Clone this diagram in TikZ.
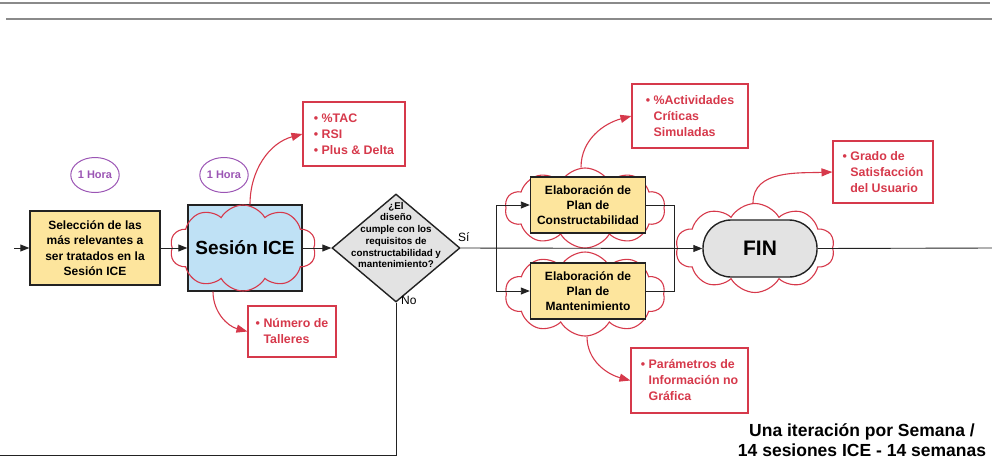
\documentclass[tikz,border=0pt]{standalone}
\usepackage{fontspec}
\setmainfont{Liberation Sans}
\usetikzlibrary{shapes.geometric,shapes.symbols,arrows.meta,calc}
\definecolor{ink}{HTML}{222222}
\definecolor{redline}{HTML}{D6394B}
\definecolor{purp}{HTML}{9B55B4}
\definecolor{yel}{HTML}{FDE59D}
\definecolor{skyb}{HTML}{BFE1F5}
\definecolor{grayf}{HTML}{E3E3E3}
\definecolor{rulec}{HTML}{8A8A8A}

\begin{document}
\begin{tikzpicture}[x=1pt,y=-1pt,
  task/.style={rectangle, draw=ink, line width=1.4pt, fill=yel, align=center,
    font=\fontsize{12}{15.3}\selectfont\bfseries, inner sep=0pt},
  hour/.style={ellipse, draw=purp, line width=1pt, minimum width=44pt,
    minimum height=35pt, inner sep=0pt, text=purp,
    font=\fontsize{11}{12}\selectfont\bfseries},
  puff/.style={cloud, draw=redline, line width=1.1pt, cloud puffs=10,
    cloud puff arc=120, cloud ignores aspect, inner sep=0pt},
  metric/.style={rectangle, draw=redline, line width=1.1pt, text=redline,
    align=left, font=\fontsize{12.4}{16}\selectfont\bfseries, inner sep=0pt},
  link/.style={draw=ink, line width=0.9pt},
  flow/.style={link, -{Triangle[length=9pt,width=7pt]}},
  feed/.style={draw=redline, line width=1.1pt, -{Triangle[length=11pt,width=8pt]}},
]
\useasboundingbox (0,0) rectangle (992,459);

% header rules
\draw[rulec, line width=1.8pt] (0,3) -- (990,3);
\draw[rulec, line width=1.8pt] (6,19) -- (992,19);

% time markers
\node[hour] (h1) at (95,175) {1 Hora};
\node[hour] (h2) at (224,175) {1 Hora};

% main steps
\node[task, minimum width=130pt, minimum height=74pt] (sel) at (95,248)
  {Selección de las\\más relevantes a\\ser tratados en la\\Sesión ICE};
\node[rectangle, draw=ink, line width=1.4pt, fill=skyb, minimum width=114pt,
  minimum height=86pt, inner sep=0pt, font=\fontsize{19}{22}\selectfont\bfseries]
  (ice) at (245,248) {Sesión ICE};
\node[puff, minimum width=146pt, minimum height=86pt] (cice) at (243,248) {};

\node[diamond, draw=ink, line width=1.4pt, fill=grayf, minimum width=128pt,
  minimum height=108pt, inner sep=0pt,
  label={[font=\fontsize{9.8}{11.7}\selectfont\bfseries, align=center, yshift=13pt]center:{¿El\\diseño\\cumple con los\\requisitos de\\constructabilidad y\\mantenimiento?}}]
  (dec) at (396,248) {};

\node[puff, minimum width=160pt, minimum height=80pt] (cec) at (585,208) {};
\node[puff, minimum width=160pt, minimum height=84pt] (cem) at (585,294) {};
\node[task, minimum width=115pt, minimum height=56pt] (ec) at (588,205)
  {Elaboración de\\Plan de\\Constructabilidad};
\node[task, minimum width=115pt, minimum height=56pt] (em) at (588,291)
  {Elaboración de\\Plan de\\Mantenimiento};

\node[puff, minimum width=159pt, minimum height=89pt] (cfin) at (755,248) {};
\node[rectangle, rounded corners=28pt, draw=ink, line width=1.4pt, fill=grayf,
  minimum width=114pt, minimum height=57pt, inner sep=0pt,
  font=\fontsize{21}{24}\selectfont\bfseries] (fin) at (760,248.5) {FIN};

% indicators
\node[metric, minimum width=102pt, minimum height=64pt] (tac) at (354,134)
  {• \%TAC\\• RSI\\• Plus \& Delta};
\node[metric, minimum width=88pt, minimum height=51pt] (tall) at (292,331.5)
  {• Número de\\\phantom{• }Talleres};
\node[metric, minimum width=116pt, minimum height=64pt] (act) at (690,116)
  {• \%Actividades\\\phantom{• }Críticas\\\phantom{• }Simuladas};
\node[metric, minimum width=117pt, minimum height=65pt] (par) at (689.5,380.5)
  {• Parámetros de\\\phantom{• }Información no\\\phantom{• }Gráfica};
\node[metric, minimum width=100pt, minimum height=62pt] (gra) at (883,172)
  {• Grado de\\\phantom{• }Satisfacción\\\phantom{• }del Usuario};

% flow
\coordinate (entry) at (14,248);
\coordinate (fork) at (496,248);
\coordinate (join) at (674,248);
\coordinate (exit) at (992,248);
\coordinate (back) at (0,455);

\draw[flow] (entry) -- (sel.west);
\draw[flow] (sel.east) -- (ice.west);
\draw[flow] (ice.east) -- (dec.west);
\draw[flow] (dec.east) -- (fin.west);
\draw[link] (fin.east) -- (exit);
\draw[link] (fork |- ec.west) -- (fork |- em.west);
\draw[flow] (fork |- ec.west) -- (ec.west);
\draw[flow] (fork |- em.west) -- (em.west);
\draw[link] (ec.east) -| (join) |- (em.east);
\draw[link] (dec.south) |- (back);

\node[anchor=south west, font=\fontsize{12}{14}\selectfont, inner sep=1pt] (si) at (457,243) {Sí};
\node[anchor=north west, font=\fontsize{12}{14}\selectfont, inner sep=1pt] (no) at (400,295) {No};

% indicator links
\draw[feed] ($(cice.north)+(7,0)$) to[out=90,in=195] (tac.west);
\draw[feed] ($(cice.south)+(-30,0)$) to[out=-90,in=165] (tall.west);
\draw[feed] ($(cec.north)+(-4,0)$) to[out=90,in=195] (act.west);
\draw[feed] ($(cem.south)+(2,0)$) to[out=-90,in=165] (par.west);
\draw[feed] ($(cfin.north)+(-2,0)$) to[out=90,in=182] (gra.west);

% iteration note
\node[align=center, font=\fontsize{17.5}{20}\selectfont\bfseries] (note) at (862,440)
  {Una iteración por Semana /\\14 sesiones ICE - 14 semanas};
\end{tikzpicture}
\end{document}
